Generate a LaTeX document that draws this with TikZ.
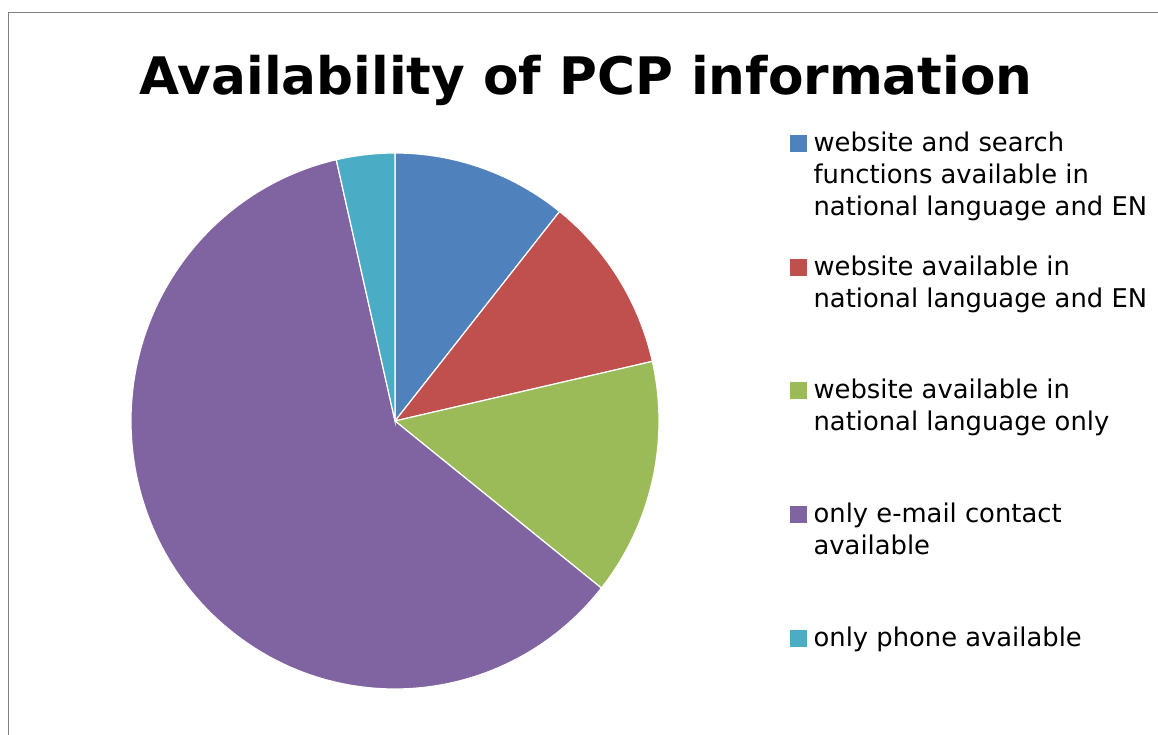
\documentclass[tikz,border=0pt]{standalone}
\usepackage{fontspec}
\setmainfont{DejaVu Sans}
\usepackage{xcolor}
\usetikzlibrary{positioning}

\definecolor{sliceblue}{HTML}{4F81BD}
\definecolor{slicered}{HTML}{C0504D}
\definecolor{slicegreen}{HTML}{9BBB59}
\definecolor{slicepurple}{HTML}{8064A2}
\definecolor{sliceaqua}{HTML}{4BACC6}

\begin{document}
\begin{tikzpicture}[x=1pt, y=1pt]
    \tikzstyle{slice} = [draw=white, line width=1.2pt]
    \tikzstyle{key} = [rectangle, minimum width=17pt, minimum height=17pt, inner sep=0pt, anchor=south west]
    \tikzstyle{legendtext} = [inner sep=0pt, align=left, anchor=base west, font=\fontsize{25.8}{32}\selectfont]
    \tikzstyle{frame} = [draw=black!50, line width=1.5pt]

    \useasboundingbox (0,0) rectangle (1158,735);
    \draw [frame] (8.5,0) |- (1158,722.5);

    \node (title) at (586,640) [anchor=base, inner sep=0pt, font=\fontsize{51.7}{60}\selectfont\bfseries] {Availability of PCP information};

    % pie, 28 answers in all
    \coordinate (centre) at (395,314);
    \filldraw [slice, fill=sliceblue] (centre) -- ++(90:264pt and 268pt) arc[start angle=90, end angle=51.43, x radius=264pt, y radius=268pt] -- cycle;
    \filldraw [slice, fill=slicered] (centre) -- ++(51.43:264pt and 268pt) arc[start angle=51.43, end angle=12.86, x radius=264pt, y radius=268pt] -- cycle;
    \filldraw [slice, fill=slicegreen] (centre) -- ++(12.86:264pt and 268pt) arc[start angle=12.86, end angle=-38.57, x radius=264pt, y radius=268pt] -- cycle;
    \filldraw [slice, fill=slicepurple] (centre) -- ++(-38.57:264pt and 268pt) arc[start angle=-38.57, end angle=-257.14, x radius=264pt, y radius=268pt] -- cycle;
    \filldraw [slice, fill=sliceaqua] (centre) -- ++(102.86:264pt and 268pt) arc[start angle=102.86, end angle=90, x radius=264pt, y radius=268pt] -- cycle;

    % legend
    \node (key1) at (790,583) [key, fill=sliceblue] {};
    \node (key2) at (790,459) [key, fill=slicered] {};
    \node (key3) at (790,336) [key, fill=slicegreen] {};
    \node (key4) at (790,212) [key, fill=slicepurple] {};
    \node (key5) at (790,88) [key, fill=sliceaqua] {};

    % base of a label is its last line
    \node (lab1) [below right=64pt and 6pt of key1.south east, legendtext] {website and search\\functions available in\\national language and EN};
    \node (lab2) [below right=32pt and 6pt of key2.south east, legendtext] {website available in\\national language and EN};
    \node (lab3) [below right=32pt and 6pt of key3.south east, legendtext] {website available in\\national language only};
    \node (lab4) [below right=32pt and 6pt of key4.south east, legendtext] {only e-mail contact\\available};
    \node (lab5) [right=6pt of key5.south east, legendtext] {only phone available};
\end{tikzpicture}
\end{document}
